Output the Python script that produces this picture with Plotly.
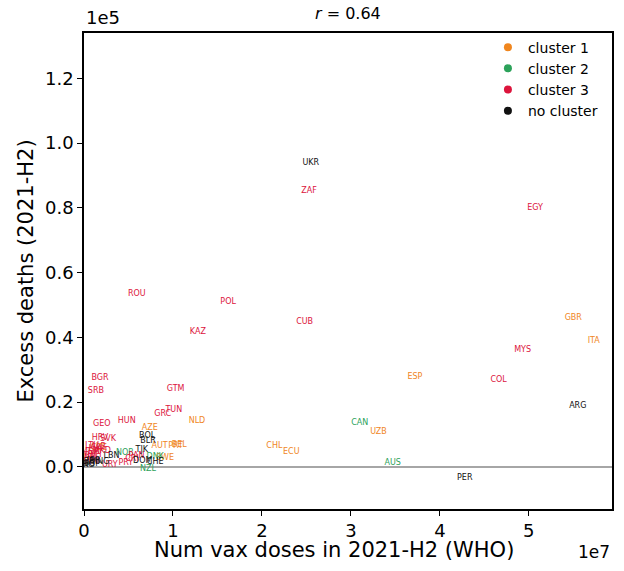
import plotly.graph_objects as go

# ---- data (x: vaccine doses, y: excess deaths) ----
c1_labels = ["GBR", "ITA", "ESP", "UZB", "CHL", "ECU", "NLD", "AZE", "AUT", "PRT", "BEL", "SWE", "CZE"]
c1_x = [5.50e7, 5.73e7, 3.72e7, 3.31e7, 2.14e7, 2.33e7, 1.27e7, 0.74e7, 0.85e7, 1.03e7, 1.07e7, 0.91e7, 0.17e7]
c1_y = [46000, 38900, 27800, 10800, 6500, 4600, 14200, 12000, 6500, 6500, 6800, 2800, 5900]

c2_labels = ["CAN", "AUS", "DNK", "NZL", "NOR"]
c2_x = [3.10e7, 3.47e7, 0.80e7, 0.72e7, 0.46e7]
c2_y = [13600, 1200, 3100, -600, 4300]

c3_labels = ["ZAF", "EGY", "ROU", "POL", "KAZ", "CUB", "MYS", "COL", "BGR", "SRB", "GTM", "TUN",
             "GRC", "HUN", "GEO", "HRV", "SVK", "LTU", "LVA", "MDA", "ARM", "BIH", "MKD", "SVN",
             "MNE", "ALB", "URY", "CRI", "PAN", "PRY"]
c3_x = [2.53e7, 5.07e7, 0.594e7, 1.62e7, 1.28e7, 2.48e7, 4.93e7, 4.66e7, 0.18e7, 0.134e7, 1.03e7, 1.01e7,
        0.885e7, 0.48e7, 0.20e7, 0.18e7, 0.27e7, 0.09e7, 0.13e7, 0.07e7, 0.045e7, 0.12e7, 0.20e7, 0.07e7,
        0.02e7, 0.16e7, 0.29e7, 0.54e7, 0.59e7, 0.47e7]
c3_y = [85200, 79900, 53500, 51000, 41700, 44800, 36100, 26800, 27500, 23500, 24100, 17600,
        16400, 14200, 13300, 9000, 8600, 6500, 5600, 4600, 3400, 3700, 4900, 1500,
        2800, 6200, 600, 2500, 3400, 1200]

nc_labels = ["UKR", "ARG", "PER", "BOL", "BLR", "TJK", "LBN", "DOM", "CHE", "ISR", "JOR", "HKG", "SGP", "MNG"]
nc_x = [2.55e7, 5.55e7, 4.28e7, 0.71e7, 0.72e7, 0.65e7, 0.31e7, 0.66e7, 0.80e7, 0.045e7, 0.11e7, 0.02e7, 0.09e7, 0.18e7]
nc_y = [93800, 18800, -3400, 9600, 8000, 5200, 3400, 1900, 1500, 1500, 1900, 600, 900, 1500]

y_ticks = [0, 20000, 40000, 60000, 80000, 100000, 120000]
y_ticktext = ["0.0", "0.2", "0.4", "0.6", "0.8", "1.0", "1.2"]
x_ticks = [0, 1e7, 2e7, 3e7, 4e7, 5e7]
x_ticktext = ["0", "1", "2", "3", "4", "5"]

groups = [
    ("cluster 1", c1_labels, c1_x, c1_y, "#f0861e"),
    ("cluster 2", c2_labels, c2_x, c2_y, "#2ca25a"),
    ("cluster 3", c3_labels, c3_x, c3_y, "#dc143c"),
    ("no cluster", nc_labels, nc_x, nc_y, "#111111"),
]

FONT = "DejaVu Sans"
fig = go.Figure()

for name, labels, xs, ys, col in groups:
    fig.add_trace(go.Scatter(
        x=xs, y=ys, mode="text", text=labels,
        textfont=dict(family=FONT, size=8, color=col),
        showlegend=False, hoverinfo="skip"))
    fig.add_trace(go.Scatter(
        x=[None], y=[None], mode="markers", name=name,
        marker=dict(color=col, size=8), showlegend=True))

fig.add_shape(type="line", xref="paper", x0=0, x1=1, yref="y", y0=0, y1=0,
              line=dict(color="#888888", width=1.5), layer="below")

fig.add_annotation(text="<i>r</i> = 0.64", xref="paper", yref="paper", x=0.5, y=1.0,
                   yanchor="middle", yshift=20, showarrow=False,
                   font=dict(family=FONT, size=16, color="black"))
fig.add_annotation(text="1e5", xref="paper", yref="paper", x=0, y=1.0, xanchor="left",
                   yanchor="bottom", yshift=3, showarrow=False, font=dict(family=FONT, size=18, color="black"))
fig.add_annotation(text="1e7", xref="paper", yref="paper", x=1.0, y=0, xanchor="right",
                   yanchor="middle", yshift=-43, showarrow=False, font=dict(family=FONT, size=17, color="black"))
fig.add_annotation(text="Num vax doses in 2021-H2 (WHO)", xref="paper", yref="paper", x=0.474, y=0,
                   xanchor="center", yanchor="middle", yshift=-41, showarrow=False,
                   font=dict(family=FONT, size=21, color="black"))

fig.update_layout(
    width=624, height=571,
    margin=dict(l=84, r=10, t=33, b=62),
    paper_bgcolor="white", plot_bgcolor="white",
    font=dict(family=FONT, color="black"),
    legend=dict(x=0.765, y=1.003, xanchor="left", yanchor="top",
                font=dict(family=FONT, size=14), bgcolor="rgba(255,255,255,0)",
                itemwidth=30, tracegroupgap=0),
    xaxis=dict(range=[0, 5.935e7], tickvals=x_ticks, ticktext=x_ticktext,
               showgrid=False, zeroline=False, showline=True, linecolor="black", linewidth=1.5,
               mirror=True, ticks="outside", ticklen=5, tickwidth=1, tickcolor="black",
               tickfont=dict(family=FONT, size=18)),
    yaxis=dict(range=[-13000, 134000], tickvals=y_ticks, ticktext=y_ticktext,
               showgrid=False, zeroline=False, showline=True, linecolor="black", linewidth=1.5,
               mirror=True, ticks="outside", ticklen=5, tickwidth=1, tickcolor="black",
               tickfont=dict(family=FONT, size=18),
               title=dict(text="Excess deaths (2021-H2)", font=dict(family=FONT, size=21), standoff=6)),
)

fig.write_html("out.html", config={"displayModeBar": False},
               post_script="document.body.style.margin='0';")
